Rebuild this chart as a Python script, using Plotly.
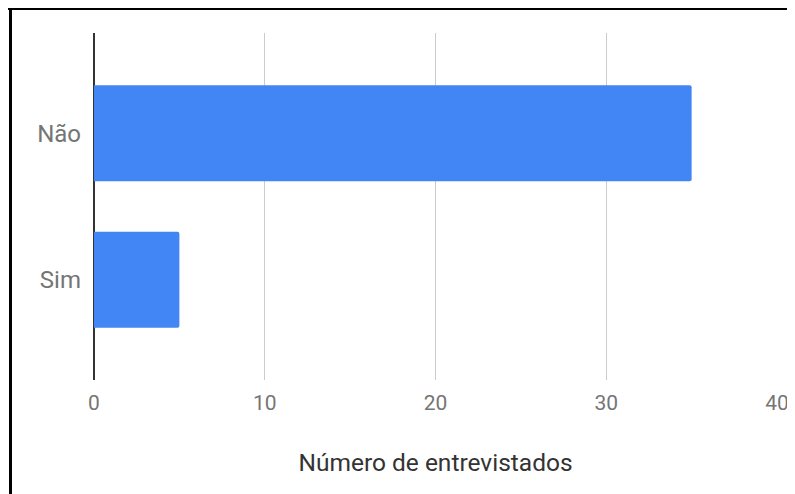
import plotly.graph_objects as go

categories = ["Não", "Sim"]
values = [35, 5]
x_ticks = [0, 10, 20, 30, 40]
x_title = "Número de entrevistados"

fig = go.Figure(go.Bar(
    x=values, y=categories, orientation="h",
    marker=dict(color="#4285F4", line=dict(width=0), cornerradius=2),
    width=0.655,
))

# page body has an 8px margin, so the figure is drawn 8px smaller
OFF = 8
W, H = 795 - OFF, 494 - OFF
L, R, T, B = 94 - OFF, 777 - OFF, 33 - OFF, 380 - OFF
pw, ph = R - L, B - T

def px(x):
    return (x - L) / pw

def py(y):
    return (B - y) / ph

fig.update_layout(
    width=W, height=H,
    margin=dict(l=L, r=W - R, t=T, b=H - B, autoexpand=False),
    paper_bgcolor="white", plot_bgcolor="white",
    font=dict(family="Roboto", color="#757575"),
    showlegend=False,
    xaxis=dict(
        range=[0, 40], tickvals=x_ticks, showgrid=True, gridcolor="#cccccc", gridwidth=1,
        zeroline=True, zerolinecolor="#333333", zerolinewidth=2, automargin=False,
        showline=False, tickfont=dict(size=21, color="#757575"),
        ticklabelstandoff=8,
        title=dict(text=x_title, font=dict(size=24.5, color="#333333"), standoff=39),
    ),
    yaxis=dict(
        autorange=False, range=[1.685, -0.685], showgrid=False, zeroline=False, automargin=False,
        tickfont=dict(size=24, color="#757575"), ticklabelstandoff=12,
    ),
    shapes=[
        dict(type="line", xref="paper", yref="paper", x0=px(0), x1=px(800), y0=py(0.5), y1=py(0.5),
             line=dict(color="black", width=3)),
        dict(type="line", xref="paper", yref="paper", x0=px(2.5), x1=px(2.5), y0=py(0), y1=py(500),
             line=dict(color="black", width=3)),
    ],
)

fig.write_html("out.html")
